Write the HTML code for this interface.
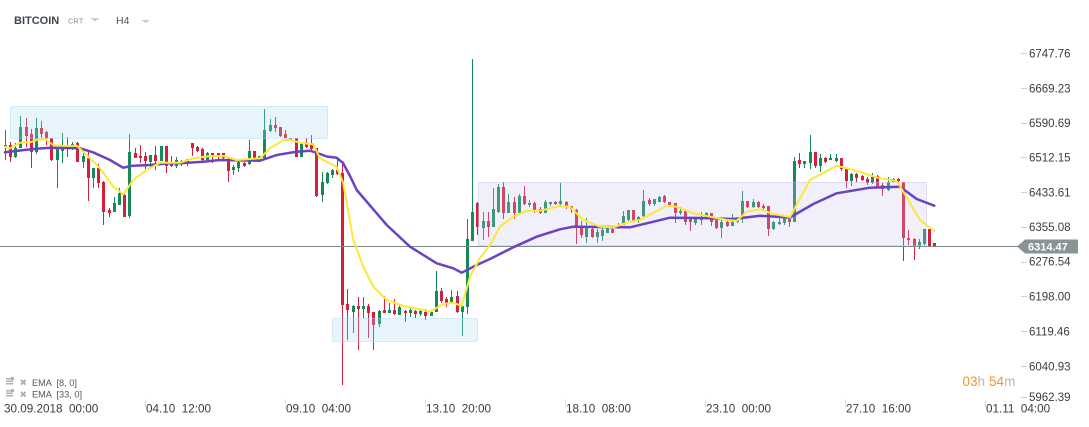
<!DOCTYPE html>
<html><head><meta charset="utf-8"><style>
html,body{margin:0;padding:0;background:#fff;}
body{width:1089px;height:427px;overflow:hidden;position:relative;font-family:"Liberation Sans",Arial,sans-serif;}
svg{position:absolute;left:0;top:0;}
text{font-family:"Liberation Sans",Arial,sans-serif;}
</style></head><body>
<svg id="s" width="1089" height="427" viewBox="0 0 1089 427" xmlns="http://www.w3.org/2000/svg">
<rect x="0" y="0" width="1089" height="427" fill="#fff"/>
<!-- header -->
<text x="14" y="24" font-size="11" font-weight="bold" fill="#3d4852">BITCOIN</text>
<text x="68" y="23.5" font-size="7.5" fill="#7d8d99">CRT</text>
<polygon points="90.5,18 99.5,18 95,21.5" fill="#c6ccd2"/>
<text x="116" y="24" font-size="10.5" fill="#4a5560">H4</text>
<polygon points="141.5,20 150,20 145.75,23" fill="#c6ccd2"/>
<g id="candles"></g>
<!-- zones -->
<rect x="10.5" y="106.5" width="317" height="32" fill="rgba(170,215,245,0.27)" stroke="rgba(170,215,245,0.45)" stroke-width="1"/>
<rect x="478.5" y="182.5" width="448" height="63" fill="rgba(200,190,235,0.25)" stroke="rgba(200,190,235,0.5)" stroke-width="1"/>
<rect x="332.5" y="318.5" width="145" height="23" fill="rgba(170,215,245,0.27)" stroke="rgba(170,215,245,0.45)" stroke-width="1"/>
<!-- price line -->
<line x1="0" y1="246.5" x2="1018" y2="246.5" stroke="#7f8c8d" stroke-width="1"/>
<!-- EMA 33 -->
<polyline fill="none" stroke="#6a43c0" stroke-width="2.5" stroke-linejoin="round" stroke-linecap="round" points="5,152.3 33,149 50,147.7 80,148.3 93,152.3 110,160 123,167.7 133,165.7 150,165 170,163.3 180,163.3 203,161.7 220,160 260,160.7 276.7,155 296.7,151.7 310,150.7 320,154 326.7,156.5 336.7,157.8 343,163 350,176 356.7,190 386.7,225 410,246.7 436.7,263.3 453.3,268.3 461.7,272.7 476.7,265 490,259 513.3,247.3 536.7,236.7 560,229.3 573.3,226.7 600,227 630,227.3 646.7,223.3 670,217.7 700,218 733.3,219 760,215.7 790,217.5 813.3,204 836.7,193.3 870,187.7 900,186.7 916.7,199 934.3,205.7"/>
<!-- EMA 8 -->
<polyline fill="none" stroke="#fce83a" stroke-width="2" stroke-linejoin="round" stroke-linecap="round" points="5,146.7 10,148.3 20,142.7 30,142.3 36.7,140 45,139 53.3,145 66.7,146 76.7,145.7 86.7,155 100,168.3 113.3,186.7 123.3,194.3 133.3,180 146.7,170 160,162.7 180,162.7 193.3,158.3 210,156 223.3,156 236.7,160 260,158.3 270,148.3 283.3,140 290,140 303.3,143.3 313.3,144.3 320,158.3 336.7,167 343.3,183.3 353.3,240 363.3,266.7 373.3,286.7 386.7,300 403.3,306 423.3,310 430,311.7 443.3,304 453.3,302.7 461.7,306 470,276.7 480,258 490,245 500,226.7 513.3,216.7 526.7,210.7 540,210.7 560,206 570,206.7 583.3,220 600,226.7 613.3,227.3 630,221.7 640,220 666.7,205.7 676.7,206.7 693.3,213.3 713.3,217.3 726.7,220 736.7,220.7 746.7,211.7 760,209.3 773.3,214 790,217 810,180 836.7,165.7 856.7,171 880,178.3 896.7,181 903.3,191.7 920,220 934.3,231"/>
<!-- price label -->
<polygon points="1017,246.5 1025,239.5 1078,239.5 1078,253.5 1025,253.5" fill="#8a9396"/>
<text x="1028" y="250.5" font-size="11" font-weight="bold" fill="#fff">6314.47</text>
<!-- y axis -->
<g stroke="#d0d0d0" stroke-width="1">
<line x1="1021" y1="53.5" x2="1027" y2="53.5"/><line x1="1021" y1="88.5" x2="1027" y2="88.5"/>
<line x1="1021" y1="123.5" x2="1027" y2="123.5"/><line x1="1021" y1="157.5" x2="1027" y2="157.5"/>
<line x1="1021" y1="192.5" x2="1027" y2="192.5"/><line x1="1021" y1="227.5" x2="1027" y2="227.5"/>
<line x1="1021" y1="262.5" x2="1027" y2="262.5"/><line x1="1021" y1="296.5" x2="1027" y2="296.5"/>
<line x1="1021" y1="331.5" x2="1027" y2="331.5"/><line x1="1021" y1="366.5" x2="1027" y2="366.5"/>
<line x1="1021" y1="397.5" x2="1027" y2="397.5"/>
</g>
<g font-size="11.5" fill="#3c3c3c">
<text x="1029" y="57.5">6747.76</text>
<text x="1029" y="92.5">6669.23</text>
<text x="1029" y="127">6590.69</text>
<text x="1029" y="161.5">6512.15</text>
<text x="1029" y="196.5">6433.61</text>
<text x="1029" y="231">6355.08</text>
<text x="1029" y="265.5">6276.54</text>
<text x="1029" y="300.5">6198.00</text>
<text x="1029" y="335.5">6119.46</text>
<text x="1029" y="370.5">6040.93</text>
<text x="1029" y="401">5962.39</text>
</g>
<!-- countdown -->
<text x="962.5" y="386" font-size="13.5"><tspan fill="#f7941d">03</tspan><tspan fill="#b8b8b8">h</tspan><tspan fill="#f7941d" dx="4">54</tspan><tspan fill="#b8b8b8">m</tspan></text>
<!-- legend -->
<g fill="#b0b0b0">
<rect x="6" y="378" width="7" height="1.5"/><rect x="6" y="380.5" width="7" height="1.5"/><rect x="6" y="383" width="7" height="1.5"/><rect x="11" y="377" width="3" height="3"/>
<rect x="6" y="390" width="7" height="1.5"/><rect x="6" y="392.5" width="7" height="1.5"/><rect x="6" y="395" width="7" height="1.5"/><rect x="11" y="389" width="3" height="3"/>
</g>
<text x="19.5" y="385.5" font-size="9" fill="#b0b0b0">✖</text>
<text x="19.5" y="397.5" font-size="9" fill="#b0b0b0">✖</text>
<text x="32" y="385.8" font-size="9.2" fill="#555" xml:space="preserve">EMA  [8, 0]</text>
<text x="32" y="397.5" font-size="9.2" fill="#555" xml:space="preserve">EMA  [33, 0]</text>
<!-- x axis -->
<g stroke="#e2e2e2" stroke-width="1">
<line x1="145.5" y1="399" x2="145.5" y2="407"/><line x1="285.5" y1="399" x2="285.5" y2="407"/>
<line x1="425.5" y1="399" x2="425.5" y2="407"/><line x1="565.5" y1="399" x2="565.5" y2="407"/>
<line x1="705.5" y1="399" x2="705.5" y2="407"/><line x1="845.5" y1="399" x2="845.5" y2="407"/>
<line x1="985.5" y1="399" x2="985.5" y2="407"/>
</g>
<g font-size="11.7" fill="#3c3c3c">
<text x="4" y="412.5" xml:space="preserve">30.09.2018  00:00</text>
<text x="146" y="412.5" xml:space="preserve">04.10  12:00</text>
<text x="286" y="412.5" xml:space="preserve">09.10  04:00</text>
<text x="426" y="412.5" xml:space="preserve">13.10  20:00</text>
<text x="566" y="412.5" xml:space="preserve">18.10  08:00</text>
<text x="706" y="412.5" xml:space="preserve">23.10  00:00</text>
<text x="846" y="412.5" xml:space="preserve">27.10  16:00</text>
<text x="986" y="412.5" xml:space="preserve">01.11  04:00</text>
</g>
</svg>
<script>
(function(){
var D=[
"g130,160,145,147","r142,162,145,157","g143,158,148,157","g116,148,127,148","r118,147,127,136",
"r129,168,134,152","g118,154,128,152","r121,138,128,134","r131,145,132,138","r138,161,138,160",
"g148,188,149,160","g133,163,148,151","g137,157,146,147","g142,150,144,147","r142,162,143,162",
"g150,168,156,162","r152,201,158,178","g168,188,168,178","r164,188,168,183","r181,225,182,212",
"r208,217,210,213","g197,212,203,212","g188,205,193,205","r194,217,195,217","g134,218,152,216",
"r148,158,153,158","r145,163,156,158","r152,169,156,161","g155,167,155,162","r146,170,155,161",
"g146,161,146,161","r146,173,146,166","r156,167,162,166","g157,168,160,166","r160,166,161,163",
"g159,166,159,163","r143,156,143,148","r146,152,147,151","r148,163,149,160","g152,162,153,160",
"r153,163,153,157","r153,160,153,157","r153,160,153,158","r158,182,160,171","g165,175,167,170",
"g160,172,162,168","r162,167,163,166","g140,165,151,164","r151,160,151,159","g156,160,156,158",
"g109,158,130,158","g119,132,125,131","r117,132,125,128","r127,137,127,136","r130,138,134,138",
"r138,141,138,140","r138,157,138,157","g142,157,144,157","r138,148,144,147","r135,150,143,149",
"r148,197,148,196","g172,202,182,195","g172,184,173,183","g169,178,170,175","r158,175,170,174",
"r163,385,173,305","r289,340,304,310","g305,333,306,312","r297,350,306,309","g297,318,306,309",
"r304,338,306,313","r312,350,312,325","g310,327,311,324","r296,313,310,313","g303,313,310,313",
"r299,315,310,314","g304,315,307,315","r310,322,311,313","g308,317,310,313","r310,318,311,314",
"g309,316,311,314","r309,320,312,316","g311,316,312,316","g271,312,291,312","r288,303,291,301",
"r297,307,299,303","g290,304,297,303","r291,313,296,312","g306,336,306,312","g219,314,239,307",
"g59,241,212,241","r202,235,203,227","g212,240,221,228","r212,237,221,227","g188,227,209,227",
"g184,213,187,212","r182,219,187,213","g194,213,202,213","r197,219,202,213","g194,213,196,213",
"r186,205,196,204","g200,207,203,205","r202,213,203,211","r207,214,209,213","g200,213,202,213",
"g202,206,202,204","r201,205,202,204","g183,205,201,204","r201,209,202,206","r206,213,206,209",
"r209,244,210,226","r221,238,226,235","g218,243,228,237","r227,238,229,237","g229,243,232,237",
"g227,241,230,236","g227,233,228,233","r227,233,229,233","r223,229,225,228","g211,225,216,225",
"g210,221,210,220","r210,222,210,221","g216,223,217,220","g190,217,201,216","r198,206,200,204",
"g199,206,199,204","g196,202,197,202","r195,203,196,202","r202,206,202,205","r203,223,203,213",
"g207,215,211,213","r209,225,211,222","r217,231,218,222","g218,225,219,223","g212,225,217,220",
"g212,219,213,217","r213,226,213,222","r220,229,220,228","g219,238,222,228","r221,227,222,226",
"g214,226,222,226","g219,223,220,222","g191,223,201,216","r201,208,201,207","g199,208,202,207",
"r201,208,202,207","r204,210,206,208","r206,236,206,229","g221,230,222,229","g217,225,222,224",
"g216,225,218,223","r216,227,219,222","g157,222,161,222","r153,168,160,164","g161,168,161,164",
"g135,169,152,163","r152,168,152,166","g154,172,158,166","r157,163,158,162","g154,160,158,160",
"g154,162,158,161","r158,171,158,169","r168,188,168,181","g173,186,174,181","r173,182,174,178",
"r175,181,176,180","r177,185,179,183","g173,184,177,183","r175,188,176,187","r183,196,185,189",
"g177,191,182,190","g178,182,179,182","r178,182,179,181","r182,261,182,238","r230,245,238,240",
"r238,260,239,247","g239,249,242,247","g229,245,229,244","r229,246,229,246","r243,246,243,246"
];
var ns="http://www.w3.org/2000/svg",g=document.getElementById("candles"),h="";
for(var i=0;i<D.length;i++){
var c=D[i][0]=="g"?"#178a5b":"#d5203b";
var v=D[i].slice(1).split(",").map(Number);
var cx=Math.round(4.75+5.193*i);
var hi=Math.min(v[0],v[2]),lo=Math.max(v[1],v[3]);
h+='<rect x="'+cx+'" y="'+hi+'" width="1" height="'+Math.max(1,lo-hi)+'" fill="'+c+'"/>';
h+='<rect x="'+(cx-1)+'" y="'+v[2]+'" width="3" height="'+Math.max(1,v[3]-v[2])+'" fill="'+c+'"/>';
}
g.innerHTML=h;
})();
</script>
</body></html>
